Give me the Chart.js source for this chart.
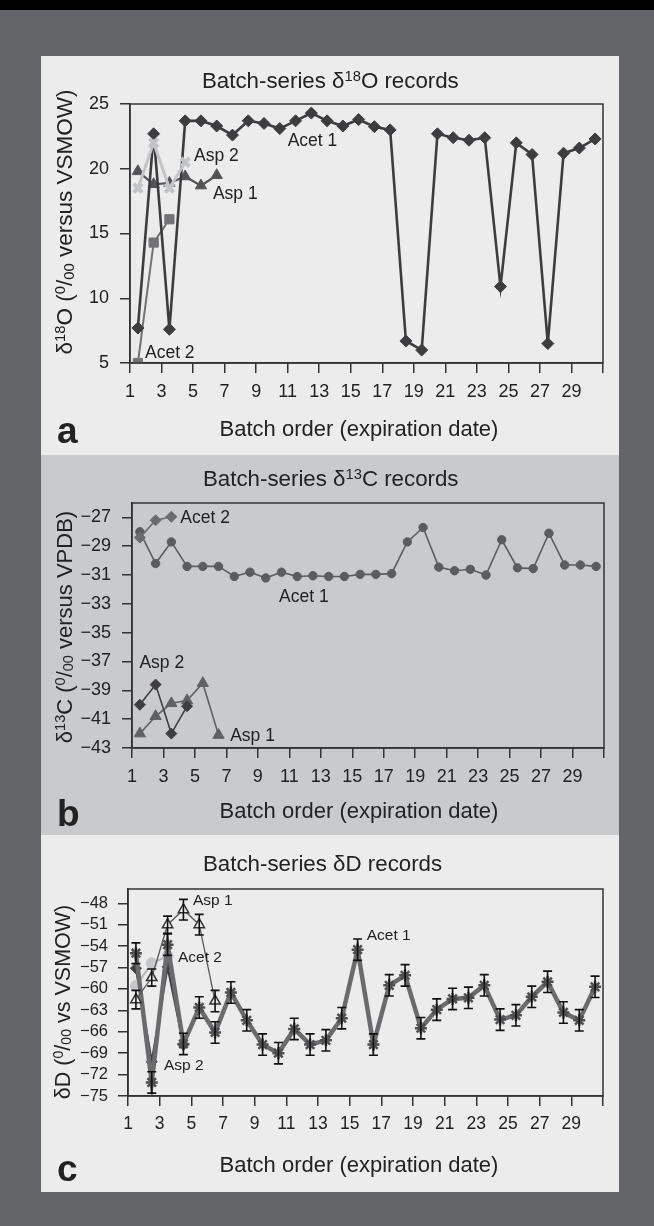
<!DOCTYPE html>
<html>
<head>
<meta charset="utf-8">
<script src="https://cdn.jsdelivr.net/npm/chart.js@4.4.1/dist/chart.umd.min.js"></script>
<style>
  html, body { margin: 0; padding: 0; }
  body { width: 654px; height: 1226px; background: #646569; position: relative; overflow: hidden; }
  #topBar { position: absolute; left: 0; top: 0; width: 654px; height: 10px; background: #000; }
  .panel { position: absolute; left: 41px; width: 578px; }
  #panelA { top: 56px; height: 399px; background: #ececec; }
  #panelB { top: 455px; height: 380px; background: #c9cacc; }
  #panelC { top: 835px; height: 357px; background: #ececec; }
</style>
</head>
<body>
<div id="topBar"></div>
<div class="panel" id="panelA"><canvas id="chartA" width="578" height="399"></canvas></div>
<div class="panel" id="panelB"><canvas id="chartB" width="578" height="380"></canvas></div>
<div class="panel" id="panelC"><canvas id="chartC" width="578" height="357"></canvas></div>
<script>
'use strict';

//***********Data***********
let batches = [1, 2, 3, 4, 5, 6, 7, 8, 9, 10, 11, 12, 13, 14, 15, 16, 17, 18, 19, 20, 21, 22, 23, 24, 25, 26, 27, 28, 29, 30];
let xTickLabels = ['1', '3', '5', '7', '9', '11', '13', '15', '17', '19', '21', '23', '25', '27', '29'];

// a - delta 18O
let o18Ticks = [5, 10, 15, 20, 25];
let o18Acet1 = [7.7, 22.7, 7.6, 23.7, 23.7, 23.3, 22.6, 23.7, 23.5, 23.1, 23.7, 24.3, 23.7, 23.3, 23.8, 23.25, 23.0, 6.7, 6.0, 22.7, 22.4, 22.2, 22.4, 10.9, 22.0, 21.1, 6.5, 21.2, 21.6, 22.3];
let o18Acet2 = [5.0, 14.3, 16.1];
let o18Asp1 = [19.8, 18.8, 18.9, 19.4, 18.7, 19.5];
let o18Asp2 = [18.5, 22.0, 18.5, 20.5];

// b - delta 13C
let c13Ticks = [-43, -41, -39, -37, -35, -33, -31, -29, -27];
let c13Acet1 = [-28.0, -30.2, -28.7, -30.4, -30.4, -30.4, -31.1, -30.8, -31.2, -30.8, -31.1, -31.05, -31.1, -31.1, -30.95, -30.95, -30.9, -28.7, -27.7, -30.45, -30.7, -30.6, -31.0, -28.55, -30.5, -30.55, -28.1, -30.3, -30.3, -30.4];
let c13Acet2 = [-28.4, -27.2, -26.95];
let c13Asp1 = [-42.0, -40.8, -39.9, -39.7, -38.5, -42.1];
let c13Asp2 = [-40.0, -38.6, -42.0, -40.1];

// c - delta D
let dTicks = [-75, -72, -69, -66, -63, -60, -57, -54, -51, -48];
let dAcet1 = [-55.0, -73.1, -53.8, -67.7, -62.6, -66.1, -60.5, -64.4, -67.8, -69.0, -65.6, -67.8, -67.2, -64.1, -54.5, -67.8, -59.5, -58.1, -65.5, -62.9, -61.4, -61.25, -59.5, -64.3, -63.7, -61.1, -59.0, -63.3, -64.4, -59.7];
let dAcet1Err = [1.45, 1.5, 1.5, 1.5, 1.5, 1.5, 1.5, 1.5, 1.5, 1.5, 1.5, 1.5, 1.5, 1.5, 1.5, 1.5, 1.5, 1.5, 1.5, 1.5, 1.5, 1.5, 1.5, 1.5, 1.5, 1.5, 1.5, 1.5, 1.5, 1.5];
let dAcet2 = [-59.6, -56.4, -55.4];
let dAsp1 = [-61.5, -58.4, -51.0, -48.9, -51.0, -61.7];
let dAsp1Err = [1.3, 1.2, 1.2, 1.45, 1.45, 1.5];
let dAsp2 = [-57.1, -70.2, -56.9, -67.8];

let FONT = '"Liberation Sans", Arial, Helvetica, sans-serif';
let INK = '#222222';

// turn a value list into {x, y} points against the batch numbers
function toPoints(values) {
  return values.map(function(v, i) { return { x: batches[i], y: v }; });
}

function minusLabel(value) {
  return value < 0 ? '\u2212' + Math.abs(value) : String(value);
}

// draws a run of text pieces, some raised (sup) or lowered (sub)
function drawRich(ctx, parts, x, y, size, align, weight) {
  let small = size * 0.66;
  let widths = parts.map(function(p) {
    ctx.font = (weight || 'normal') + ' ' + (p[1] ? small : size) + 'px ' + FONT;
    return ctx.measureText(p[0]).width;
  });
  let total = widths.reduce(function(a, b) { return a + b; }, 0);
  let cx = align === 'center' ? x - total / 2 : x;
  ctx.textAlign = 'left';
  ctx.textBaseline = 'alphabetic';
  ctx.fillStyle = INK;
  parts.forEach(function(p, i) {
    let dy = 0;
    if (p[1] === 'sup') { dy = -size * 0.32; }
    if (p[1] === 'sub') { dy = size * 0.08; }
    ctx.font = (weight || 'normal') + ' ' + (p[1] ? small : size) + 'px ' + FONT;
    ctx.fillText(p[0], cx, y + dy);
    cx += widths[i];
  });
}

// titles, axis titles, panel letter and series labels
let panelTextPlugin = {
  id: 'panelText',
  afterDraw: function(chart, args, opts) {
    let ctx = chart.ctx;
    ctx.save();
    drawRich(ctx, opts.title, opts.titleLeft, opts.titleY + 22.3 * 0.35, 22.3, 'left');
    drawRich(ctx, [['Batch order (expiration date)', '']], opts.xTitleX, opts.xTitleY + 22 * 0.35, 22, 'center');
    drawRich(ctx, [[opts.letter, '']], opts.letterX, opts.letterY, 37, 'left', 'bold');
    ctx.save();
    ctx.translate(opts.yTitleX, opts.yTitleY);
    ctx.rotate(-Math.PI / 2);
    drawRich(ctx, opts.yTitle, 0, opts.yTitleSize * 0.35, opts.yTitleSize, 'center');
    ctx.restore();
    let xs = chart.scales.x;
    let ys = chart.scales.y;
    opts.labels.forEach(function(l) {
      let px = xs.getPixelForValue(l.x);
      let py = ys.getPixelForValue(l.y);
      drawRich(ctx, [[l.text, '']], px, py + l.size * 0.35, l.size, 'left');
    });
    ctx.restore();
  }
};

// box around the plot
let framePlugin = {
  id: 'frame',
  afterDatasetsDraw: function(chart) {
    let a = chart.chartArea;
    let ctx = chart.ctx;
    ctx.save();
    ctx.strokeStyle = '#333333';
    ctx.lineWidth = 1.5;
    ctx.strokeRect(a.left, a.top, a.right - a.left, a.bottom - a.top);
    ctx.restore();
  }
};

// vertical error bars with caps
let errorBarPlugin = {
  id: 'errorBars',
  afterDatasetsDraw: function(chart) {
    let ctx = chart.ctx;
    let xs = chart.scales.x;
    let ys = chart.scales.y;
    ctx.save();
    ctx.strokeStyle = '#111111';
    ctx.lineWidth = 1.6;
    chart.data.datasets.forEach(function(ds) {
      if (!ds.errorBars) { return; }
      ds.data.forEach(function(p, i) {
        let e = ds.errorBars[i];
        let px = xs.getPixelForValue(p.x);
        let top = ys.getPixelForValue(p.y + e);
        let bot = ys.getPixelForValue(p.y - e);
        ctx.beginPath();
        ctx.moveTo(px, top); ctx.lineTo(px, bot);
        ctx.moveTo(px - 4.5, top); ctx.lineTo(px + 4.5, top);
        ctx.moveTo(px - 4.5, bot); ctx.lineTo(px + 4.5, bot);
        ctx.stroke();
      });
    });
    ctx.restore();
  }
};

function xAxis(xHeight, fontSize) {
  return {
    type: 'linear',
    min: 0.5,
    max: 30.5,
    afterBuildTicks: function(axis) {
      // each label sits on the left edge of its batch slot, plus a closing tick
      let t = xTickLabels.map(function(l) { return { value: Number(l) - 0.5 }; });
      t.push({ value: 30.5 });
      axis.ticks = t;
    },
    afterFit: function(axis) { axis.height = xHeight; },
    ticks: {
      autoSkip: false,
      maxRotation: 0,
      padding: 8,
      color: INK,
      font: { family: FONT, size: fontSize },
      callback: function(value, index) { return xTickLabels[index] || ''; }
    },
    grid: { drawOnChartArea: false, tickLength: 10, color: '#333333', lineWidth: 1.5 },
    border: { color: '#333333', width: 1.5 }
  };
}

function yAxis(tickList, yWidth, fontSize, padding) {
  return {
    type: 'linear',
    min: tickList[0],
    afterBuildTicks: function(axis) {
      axis.ticks = tickList.map(function(v) { return { value: v }; });
    },
    afterFit: function(axis) { axis.width = yWidth; },
    ticks: {
      padding: padding,
      color: INK,
      font: { family: FONT, size: fontSize },
      callback: function(value) { return minusLabel(value); }
    },
    grid: { drawOnChartArea: false, tickLength: 10, color: '#333333', lineWidth: 1.5 },
    border: { color: '#333333', width: 1.5 }
  };
}

function series(values, color, style, radius, lineWidth, extra) {
  let ds = {
    data: toPoints(values),
    borderColor: color,
    backgroundColor: color,
    pointBackgroundColor: color,
    pointBorderColor: color,
    pointStyle: style,
    pointRadius: radius,
    pointBorderWidth: 1,
    borderWidth: lineWidth,
    tension: 0
  };
  return Object.assign(ds, extra || {});
}

function renderChart(canvasId, datasets, yScale, layout, text) {
  let cfg = {
    type: 'line',
    data: { datasets: datasets },
    options: {
      responsive: false,
      animation: false,
      events: [],
      layout: { padding: { top: layout.top, right: layout.right, left: 0, bottom: 0 } },
      scales: { x: xAxis(layout.xHeight, layout.xFont), y: yScale },
      plugins: { legend: { display: false }, tooltip: { enabled: false }, panelText: text }
    },
    plugins: [framePlugin, errorBarPlugin, panelTextPlugin]
  };
  return new Chart(document.getElementById(canvasId), cfg);
}

//***********a - delta 18O***********
renderChart('chartA', [
  series(o18Asp2, '#c3c4c6', 'crossRot', 6, 3, { pointBorderWidth: 4 }),
  series(o18Acet1, '#3d3d3f', 'rectRot', 6, 2.6),
  series(o18Asp1, '#545456', 'triangle', 6.5, 2.2),
  series(o18Acet2, '#737375', 'rect', 6.5, 2)
], {
  ...yAxis(o18Ticks, 89, 18, 11),
  max: 25
}, { top: 48, right: 16, xHeight: 92, xFont: 18 }, {
  title: [['Batch-series \u03b4', ''], ['18', 'sup'], ['O records', '']],
  titleLeft: 161, titleY: 24,
  yTitle: [['\u03b4', ''], ['18', 'sup'], ['O (', ''], ['0', 'sup'], ['/', ''], ['00', 'sub'], [' versus VSMOW)', '']],
  yTitleSize: 22.5, yTitleX: 23, yTitleY: 166,
  xTitleX: 318, xTitleY: 372,
  letter: 'a', letterX: 16, letterY: 387,
  labels: [
    { text: 'Acet 1', x: 10.5, y: 22.2, size: 17.5 },
    { text: 'Asp 2', x: 4.56, y: 21.06, size: 17.5 },
    { text: 'Asp 1', x: 5.76, y: 18.1, size: 17.5 },
    { text: 'Acet 2', x: 1.45, y: 5.85, size: 17.5 }
  ]
});

//***********b - delta 13C***********
renderChart('chartB', [
  series(c13Acet2, '#6a6b6d', 'rectRot', 5.5, 1.6),
  series(c13Acet1, '#5b5c5e', 'circle', 4.2, 1.6),
  series(c13Asp2, '#3e3e40', 'rectRot', 5.5, 1.6),
  series(c13Asp1, '#606163', 'triangle', 6.5, 1.6)
], {
  ...yAxis(c13Ticks, 91, 18, 11),
  max: -26
}, { top: 48, right: 15, xHeight: 87, xFont: 18 }, {
  title: [['Batch-series \u03b4', ''], ['13', 'sup'], ['C records', '']],
  titleLeft: 162, titleY: 23,
  yTitle: [['\u03b4', ''], ['13', 'sup'], ['C (', ''], ['0', 'sup'], ['/', ''], ['00', 'sub'], [' versus VPDB)', '']],
  yTitleSize: 22, yTitleX: 23, yTitleY: 172,
  xTitleX: 318, xTitleY: 355,
  letter: 'b', letterX: 16, letterY: 371,
  labels: [
    { text: 'Acet 2', x: 3.57, y: -26.93, size: 17.5 },
    { text: 'Acet 1', x: 9.85, y: -32.47, size: 17.5 },
    { text: 'Asp 2', x: 0.97, y: -37.04, size: 17.5 },
    { text: 'Asp 1', x: 6.74, y: -42.1, size: 17.5 }
  ]
});

//***********c - delta D***********
renderChart('chartC', [
  series(dAsp1, '#333333', 'triangle', 6, 1.3, { borderColor: '#5a5a5c', pointBackgroundColor: '#ececec', pointBorderColor: '#333333', pointBorderWidth: 1.5, errorBars: dAsp1Err }),
  series(dAcet1, '#6b6b6d', 'star', 6, 4.5, { pointBorderColor: '#4e4e50', pointBorderWidth: 2.5, errorBars: dAcet1Err }),
  series(dAcet2, '#c6c7c9', 'circle', 5.5, 2, { borderColor: '#b4b5b7' }),
  series(dAsp2, '#3e3e40', 'rectRot', 5.5, 2.2)
], {
  ...yAxis(dTicks, 87, 16.5, 10),
  max: -46
}, { top: 54, right: 16, xHeight: 96, xFont: 17.5 }, {
  title: [['Batch-series \u03b4D records', '']],
  titleLeft: 162, titleY: 28,
  yTitle: [['\u03b4D (', ''], ['0', 'sup'], ['/', ''], ['00', 'sub'], [' vs VSMOW)', '']],
  yTitleSize: 21.5, yTitleX: 21, yTitleY: 167,
  xTitleX: 318, xTitleY: 329,
  letter: 'c', letterX: 16, letterY: 346,
  labels: [
    { text: 'Asp 1', x: 4.6, y: -47.54, size: 15.5 },
    { text: 'Acet 2', x: 3.66, y: -55.45, size: 15.5 },
    { text: 'Asp 2', x: 2.77, y: -70.55, size: 15.5 },
    { text: 'Acet 1', x: 15.58, y: -52.4, size: 15.5 }
  ]
});
</script>
</body>
</html>
